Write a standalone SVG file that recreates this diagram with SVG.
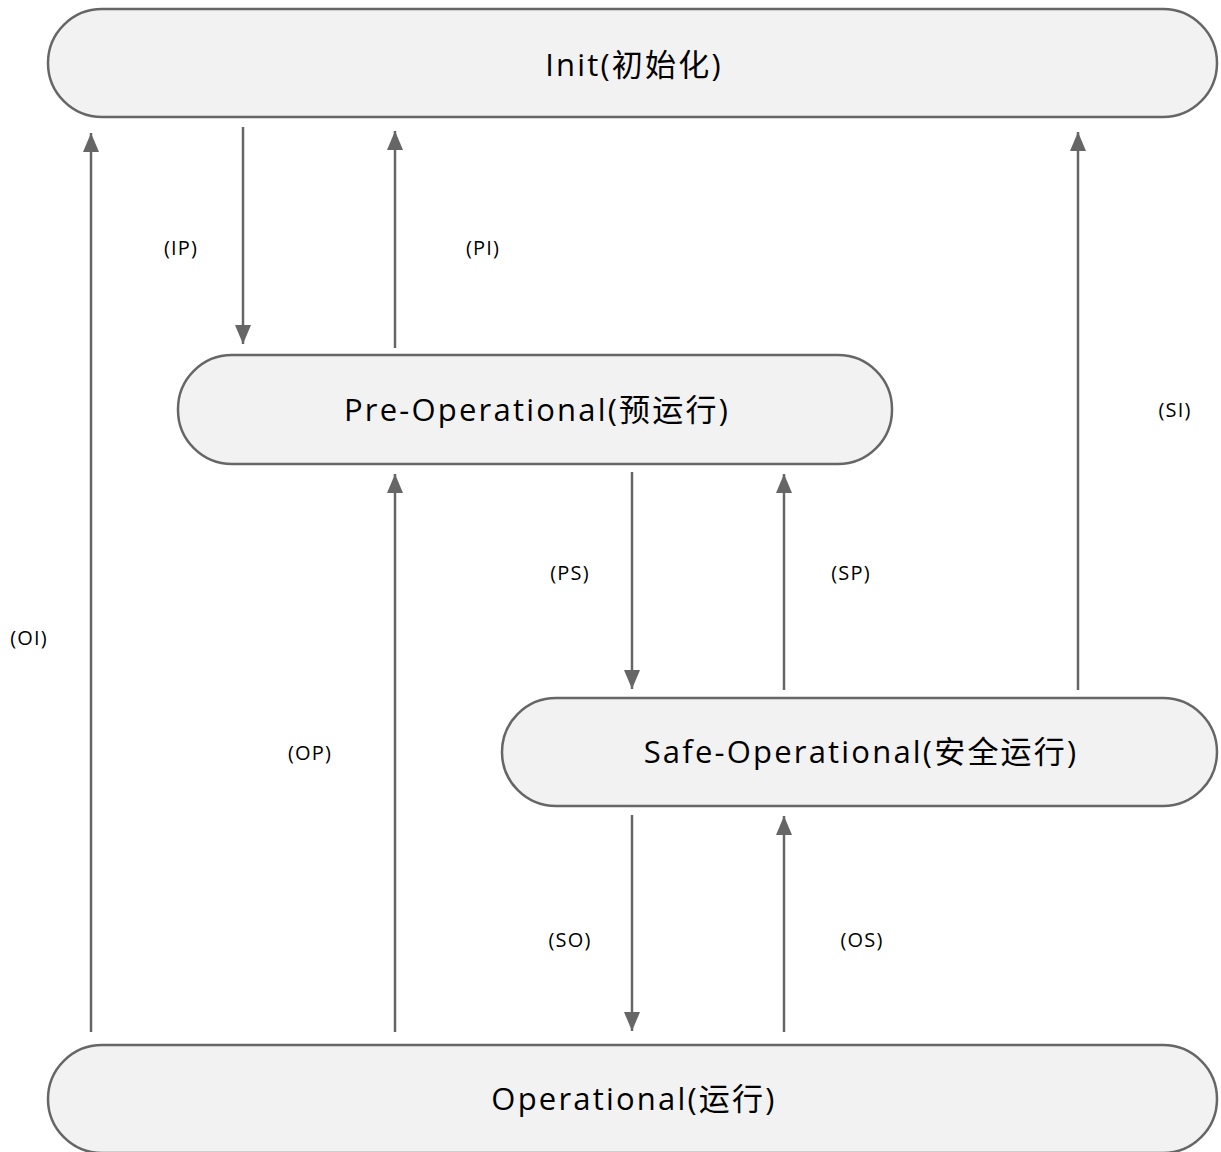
<svg xmlns="http://www.w3.org/2000/svg" width="1221" height="1152" viewBox="0 0 1221 1152">
<defs>
<marker id="ah" viewBox="0 0 19 16" refX="19" refY="8" markerWidth="19" markerHeight="16" markerUnits="userSpaceOnUse" orient="auto">
<path d="M0,0 L19,8 L0,16 z" fill="#666"/>
</marker>
<style>
.node{fill:#f2f2f2;stroke:#666;stroke-width:2.5}
.nt{font-family:"Open Sans","Noto Sans CJK SC",sans-serif;font-size:31px;fill:#000;text-anchor:middle;letter-spacing:2.2px}
.lb{font-family:"Open Sans","Noto Sans",sans-serif;font-size:20px;fill:#000;text-anchor:middle;letter-spacing:1.2px}
.c{stroke:#666;stroke-width:2.5;fill:none;marker-end:url(#ah)}
</style>
</defs>
<rect width="1221" height="1152" fill="#fff"/>
<g id="init"><rect class="node" x="48" y="9" width="1169" height="108" rx="54"/><text class="nt" x="634" y="76" letter-spacing="3.2">Init(初始化)</text></g>
<g id="preop"><rect class="node" x="178" y="355" width="714" height="109" rx="54"/><text class="nt" x="537" y="421">Pre-Operational(预运行)</text></g>
<g id="safeop"><rect class="node" x="502" y="698" width="715" height="108" rx="54"/><text class="nt" x="861" y="763">Safe-Operational(安全运行)</text></g>
<g id="op"><rect class="node" x="48" y="1045" width="1169" height="108" rx="54"/><text class="nt" x="634" y="1110">Operational(运行)</text></g>
<g id="connectors">
<line class="c" x1="91" y1="1032" x2="91" y2="133"/>
<line class="c" x1="243" y1="127" x2="243" y2="344"/>
<line class="c" x1="395" y1="348" x2="395" y2="131"/>
<line class="c" x1="1078" y1="690" x2="1078" y2="132"/>
<line class="c" x1="395" y1="1032" x2="395" y2="474"/>
<line class="c" x1="632" y1="472" x2="632" y2="689"/>
<line class="c" x1="784" y1="690" x2="784" y2="474"/>
<line class="c" x1="632" y1="815" x2="632" y2="1031"/>
<line class="c" x1="784" y1="1032" x2="784" y2="816"/>
</g>
<g id="labels">
<text class="lb" x="181" y="255">(IP)</text>
<text class="lb" x="483" y="255">(PI)</text>
<text class="lb" x="1175" y="417">(SI)</text>
<text class="lb" x="29" y="645">(OI)</text>
<text class="lb" x="310" y="760">(OP)</text>
<text class="lb" x="570" y="580">(PS)</text>
<text class="lb" x="851" y="580">(SP)</text>
<text class="lb" x="570" y="947">(SO)</text>
<text class="lb" x="862" y="947">(OS)</text>
</g>
</svg>
